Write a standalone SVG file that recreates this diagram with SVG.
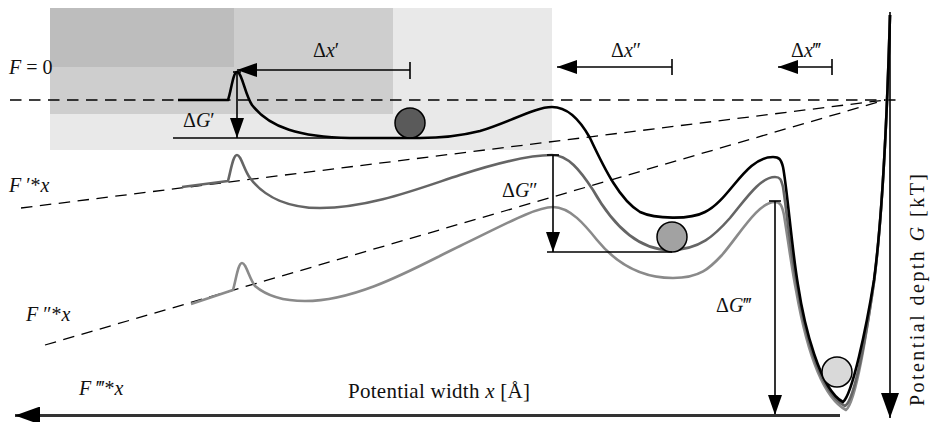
<svg xmlns="http://www.w3.org/2000/svg" width="930" height="422" viewBox="0 0 930 422">
<style>
.t{font-family:"Liberation Serif","Times New Roman",serif;font-size:20px;fill:#111}
.ax{font-size:21px}
.i{font-style:italic}
.dash{fill:none;stroke:#000;stroke-width:1.3;stroke-dasharray:11.5 7.5}
.c1{fill:none;stroke:#000;stroke-width:2.6;stroke-linejoin:round}
.c2{fill:none;stroke:#656565;stroke-width:2.6;stroke-linejoin:round}
.c3{fill:none;stroke:#8a8a8a;stroke-width:2.6;stroke-linejoin:round}
.ln{fill:none;stroke:#000;stroke-width:1.6}
.ball{stroke:#000;stroke-width:1.5}
</style>
<defs>
<marker id="ah" viewBox="0 0 20 14" refX="20" refY="7" markerWidth="20" markerHeight="14" orient="auto" markerUnits="userSpaceOnUse"><path d="M0,0 L20,7 L0,14 z" fill="#000"/></marker>
<marker id="big" viewBox="0 0 25 18" refX="25" refY="9" markerWidth="25" markerHeight="18" orient="auto" markerUnits="userSpaceOnUse"><path d="M0,0 L25,9 L0,18 z" fill="#000"/></marker>
</defs>

<g id="background">
<rect x="50" y="8" width="502" height="142" fill="#e9e9e9"/>
<rect x="50" y="8" width="343" height="106" fill="#cecece"/>
<rect x="50" y="8" width="184" height="59" fill="#bdbdbd"/>
</g>

<g id="force-lines">
<line class="dash" x1="10" y1="100" x2="897" y2="100"/>
<line class="dash" x1="21" y1="208" x2="885" y2="100"/>
<line class="dash" x1="45" y1="345" x2="885" y2="100"/>
</g>

<g id="curves">
<path id="curve-Fppp" class="c3" d="M191,304 L233,290 C236,280 238,263 242,263 C246,263 249,278 255,286 C268,297 285,301 305,301 C360,301 420,265 460,246 C500,227 535,207 553,207 C570,207 585,225 597,240 C615,262 640,278 673,278 C700,278 710,268 722,255 C740,234 758,202 775,202 C780,202 782,205 784,215 C788,240 792,270 796,290 C803,330 818,395 846,410 C856,403 867,330 874,282 C882,220 887,120 890,15"/>
<path id="curve-Fpp" class="c2" d="M182,187 L228,181 C231,170 233,155 237,155 C241,155 244,170 250,178 C265,198 290,208 320,208 C370,208 420,188 460,175 C500,162 530,155 552,155 C568,155 580,170 593,190 C610,220 635,250 670,250 C700,250 715,235 730,218 C745,200 760,177 775,177 C780,177 781,179 783,187 C786,205 790,250 797,285 C803,325 818,392 845,406 C855,400 867,330 874,282 C882,220 887,120 890,15"/>
<path id="curve-F0" class="c1" d="M178,100 L228,100 C231,92 233,72 237,72 C242,72 245,95 252,105 C270,128 300,137 350,138 L420,138 C440,138 460,136 480,131 C510,122 535,107 552,107 C568,107 580,120 590,138 C605,170 620,200 640,212 C655,219 690,220 705,212 C730,200 745,157 773,157 C779,157 781,159 783,167 C787,187 792,250 798,285 C804,325 820,390 843,402 C852,395 866,330 874,280 C882,220 887,120 890,15"/>
</g>

<g id="balls">
<circle class="ball" cx="410" cy="123" r="15" fill="#5a5a5a"/>
<circle class="ball" cx="672" cy="237" r="15" fill="#a2a2a2"/>
<circle class="ball" cx="837" cy="372" r="15" fill="#d9d9d9"/>
</g>

<g id="connectors">
<line class="ln" x1="410" y1="70" x2="237" y2="70" marker-end="url(#ah)"/>
<line class="ln" x1="410" y1="62" x2="410" y2="79"/>
<line class="ln" x1="672" y1="67" x2="557" y2="67" marker-end="url(#ah)"/>
<line class="ln" x1="672" y1="59" x2="672" y2="75"/>
<line class="ln" x1="832" y1="67" x2="778" y2="67" marker-end="url(#ah)"/>
<line class="ln" x1="832" y1="59" x2="832" y2="75"/>

<line class="ln" x1="233" y1="72" x2="241" y2="72"/>
<line class="ln" x1="237" y1="72" x2="237" y2="138" marker-end="url(#ah)"/>
<line class="ln" x1="173" y1="138" x2="420" y2="138" stroke-width="2"/>

<line class="ln" x1="547" y1="155" x2="559" y2="155"/>
<line class="ln" x1="553" y1="155" x2="553" y2="252" marker-end="url(#ah)"/>
<line class="ln" x1="547" y1="252" x2="672" y2="252"/>

<line class="ln" x1="769" y1="201" x2="781" y2="201"/>
<line class="ln" x1="775" y1="201" x2="775" y2="415" marker-end="url(#ah)"/>

<line x1="890" y1="12" x2="890" y2="418" stroke="#000" stroke-width="1.6" marker-end="url(#big)"/>
<line x1="840" y1="415.5" x2="15" y2="415.5" stroke="#333" stroke-width="3" marker-end="url(#big)"/>
</g>

<g id="labels">
<text class="t" x="9" y="74"><tspan class="i">F</tspan> = 0</text>
<text class="t" x="9" y="192"><tspan class="i">F</tspan> ′*<tspan class="i">x</tspan></text>
<text class="t" x="26" y="321"><tspan class="i">F</tspan> ″*<tspan class="i">x</tspan></text>
<text class="t" x="79" y="395"><tspan class="i">F</tspan> ‴*<tspan class="i">x</tspan></text>
<text class="t" x="313" y="57">Δ<tspan class="i">x</tspan>′</text>
<text class="t" x="611" y="57">Δ<tspan class="i">x</tspan>″</text>
<text class="t" x="791" y="57">Δ<tspan class="i">x</tspan>‴</text>
<text class="t" x="183" y="127">Δ<tspan class="i">G</tspan>′</text>
<text class="t" x="502" y="197">Δ<tspan class="i">G</tspan>″</text>
<text class="t" x="716" y="312">Δ<tspan class="i">G</tspan>‴</text>
<text class="t ax" x="348" y="398" textLength="182">Potential width <tspan class="i">x</tspan> [Å]</text>
<text class="t" font-size="22" transform="translate(924,290) rotate(-90)" x="0" y="0" text-anchor="middle" textLength="232">Potential depth <tspan class="i">G</tspan> [kT]</text>
</g>
</svg>
